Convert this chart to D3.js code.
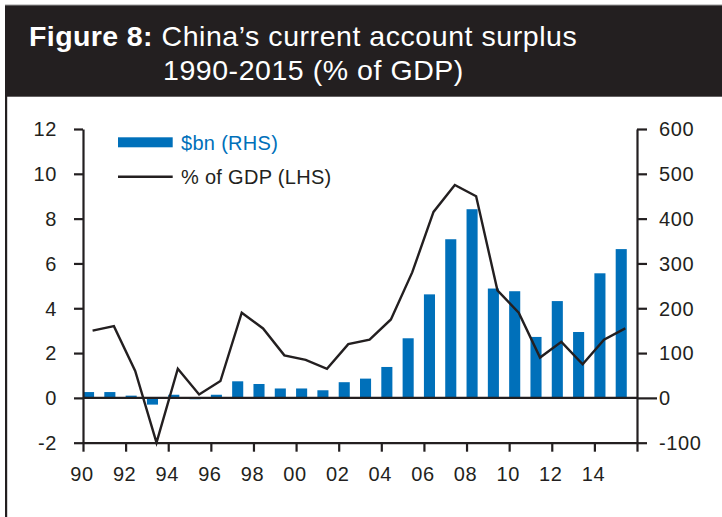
<!DOCTYPE html>
<html>
<head>
<meta charset="utf-8">
<script src="https://cdn.jsdelivr.net/npm/d3@7"></script>
<style>
  html, body { margin: 0; padding: 0; background: #fff; }
  svg { display: block; }
  text { font-family: "Liberation Sans", Arial, Helvetica, sans-serif; }
</style>
</head>
<body>
<div id="chart"></div>
<script>
// China's current account surplus, 1990-2015
const years = [1990, 1991, 1992, 1993, 1994, 1995, 1996, 1997, 1998, 1999,
               2000, 2001, 2002, 2003, 2004, 2005, 2006, 2007, 2008, 2009,
               2010, 2011, 2012, 2013, 2014, 2015];
// $bn (right-hand scale)
const surplusBn = [13, 13, 5, -15, 7, -3, 7, 37, 31, 21,
                   21, 17, 35, 43, 69, 133, 231, 354, 421, 244,
                   238, 136, 216, 147, 278, 332];
// % of GDP (left-hand scale)
const surplusPct = [3.0, 3.2, 1.2, -2.0, 1.3, 0.15, 0.75, 3.8, 3.1, 1.9,
                    1.7, 1.3, 2.4, 2.6, 3.5, 5.6, 8.3, 9.5, 9.0, 4.8,
                    3.8, 1.8, 2.5, 1.5, 2.6, 3.1];
const xTickYears = [1990, 1992, 1994, 1996, 1998, 2000, 2002, 2004, 2006,
                    2008, 2010, 2012, 2014, 2016];
const leftTicks = [-2, 0, 2, 4, 6, 8, 10, 12];
const rightTicks = [-100, 0, 100, 200, 300, 400, 500, 600];
const titleBold = "Figure 8:";
const titleLine1 = "China\u2019s current account surplus";
const titleLine2 = "1990-2015 (% of GDP)";
const legendLabels = ["$bn (RHS)", "% of GDP (LHS)"];

const W = 722, H = 517;
const ink = "#231f20";
const blue = "#0070ba";

const svg = d3.select("#chart").append("svg")
  .attr("width", W).attr("height", H);

// Header band
svg.append("rect").attr("x", 5).attr("y", 5).attr("width", W - 5).attr("height", 91.7)
  .attr("fill", ink);
svg.append("line").attr("x1", 5).attr("x2", W).attr("y1", 5).attr("y2", 5)
  .attr("stroke", "#9a9a9a").attr("stroke-width", 1);
// left rule under the header
svg.append("rect").attr("x", 5).attr("y", 96).attr("width", 2.2).attr("height", H - 96)
  .attr("fill", ink);

const title = svg.append("g").attr("fill", "#fff").style("font-size", "28.5px");
title.append("text").attr("x", 29).attr("y", 46).attr("font-weight", "bold")
  .attr("letter-spacing", "0.4").text(titleBold);
title.append("text").attr("x", 161.5).attr("y", 46).attr("letter-spacing", "0.55")
  .text(titleLine1);
title.append("text").attr("x", 163).attr("y", 79.5).attr("letter-spacing", "0.55")
  .text(titleLine2);

// Scales
const x = d3.scaleLinear().domain([1990, 2016]).range([83, 637]);
const yL = d3.scaleLinear().domain([-2, 12]).range([442.7, 129]);
const yR = d3.scaleLinear().domain([-100, 600]).range([442.7, 129]);
const yearW = x(1991) - x(1990);
const barW = yearW * 0.52;

const tickFont = "20px";
const plainNum = (d) => String(d);   // ASCII hyphen for negatives

// Bars ($bn, right axis)
svg.append("g").selectAll("rect").data(years).join("rect")
  .attr("x", (d) => x(d))
  .attr("width", barW)
  .attr("y", (d, i) => Math.min(yR(surplusBn[i]), yR(0)))
  .attr("height", (d, i) => Math.abs(yR(surplusBn[i]) - yR(0)))
  .attr("fill", blue);

// Axes
const axisStyle = (g) => {
  g.select(".domain").attr("stroke", ink).attr("stroke-width", 2.2);
  g.selectAll(".tick line").attr("stroke", ink).attr("stroke-width", 2.2);
  g.selectAll(".tick text").attr("fill", ink).style("font-size", tickFont)
    .attr("letter-spacing", "0.6");
};

const gL = svg.append("g").attr("transform", `translate(${x(1990)},0)`)
  .call(d3.axisLeft(yL).tickValues(leftTicks).tickSize(9).tickPadding(17)
    .tickSizeOuter(0).tickFormat(plainNum))
  .call(axisStyle);
gL.selectAll(".tick text").attr("dy", "0.34em");

const gR = svg.append("g").attr("transform", `translate(${x(2016)},0)`)
  .call(d3.axisRight(yR).tickValues(rightTicks).tickSize(10).tickPadding(12)
    .tickSizeOuter(0).tickFormat(plainNum))
  .call(axisStyle);
gR.selectAll(".tick text").attr("dy", "0.34em");
// zero tick on the right runs up to its label
gR.selectAll(".tick").filter((d) => d === 0).select("line").attr("x2", 20);

const gX = svg.append("g").attr("transform", `translate(0,${yL(-2)})`)
  .call(d3.axisBottom(x).tickValues(xTickYears).tickSize(9).tickPadding(15)
    .tickSizeOuter(0)
    .tickFormat((d) => d === 2016 ? "" : String(d).slice(2)))
  .call(axisStyle);
gX.selectAll(".tick text").attr("dx", "-1.5");

// zero line
svg.append("line").attr("x1", x(1990)).attr("x2", x(2016))
  .attr("y1", yL(0)).attr("y2", yL(0))
  .attr("stroke", ink).attr("stroke-width", 2.2);

// % of GDP line (left axis)
const line = d3.line()
  .x((d, i) => x(years[i] + 0.45))
  .y((d) => yL(d));
svg.append("path").datum(surplusPct)
  .attr("d", line)
  .attr("fill", "none")
  .attr("stroke", ink)
  .attr("stroke-width", 2.4)
  .attr("stroke-linejoin", "miter");

// Legend
const lg = svg.append("g").style("font-size", "20px");
lg.append("rect").attr("x", 118).attr("y", 137.3).attr("width", 54.7).attr("height", 10)
  .attr("fill", blue);
lg.append("text").attr("x", 181).attr("y", 149.5).attr("fill", blue)
  .attr("letter-spacing", "0.3").text(legendLabels[0]);
lg.append("line").attr("x1", 118).attr("x2", 172.7).attr("y1", 176.7).attr("y2", 176.7)
  .attr("stroke", ink).attr("stroke-width", 2.4);
lg.append("text").attr("x", 181).attr("y", 183.5).attr("fill", ink)
  .attr("letter-spacing", "0.3").text(legendLabels[1]);
</script>
</body>
</html>
